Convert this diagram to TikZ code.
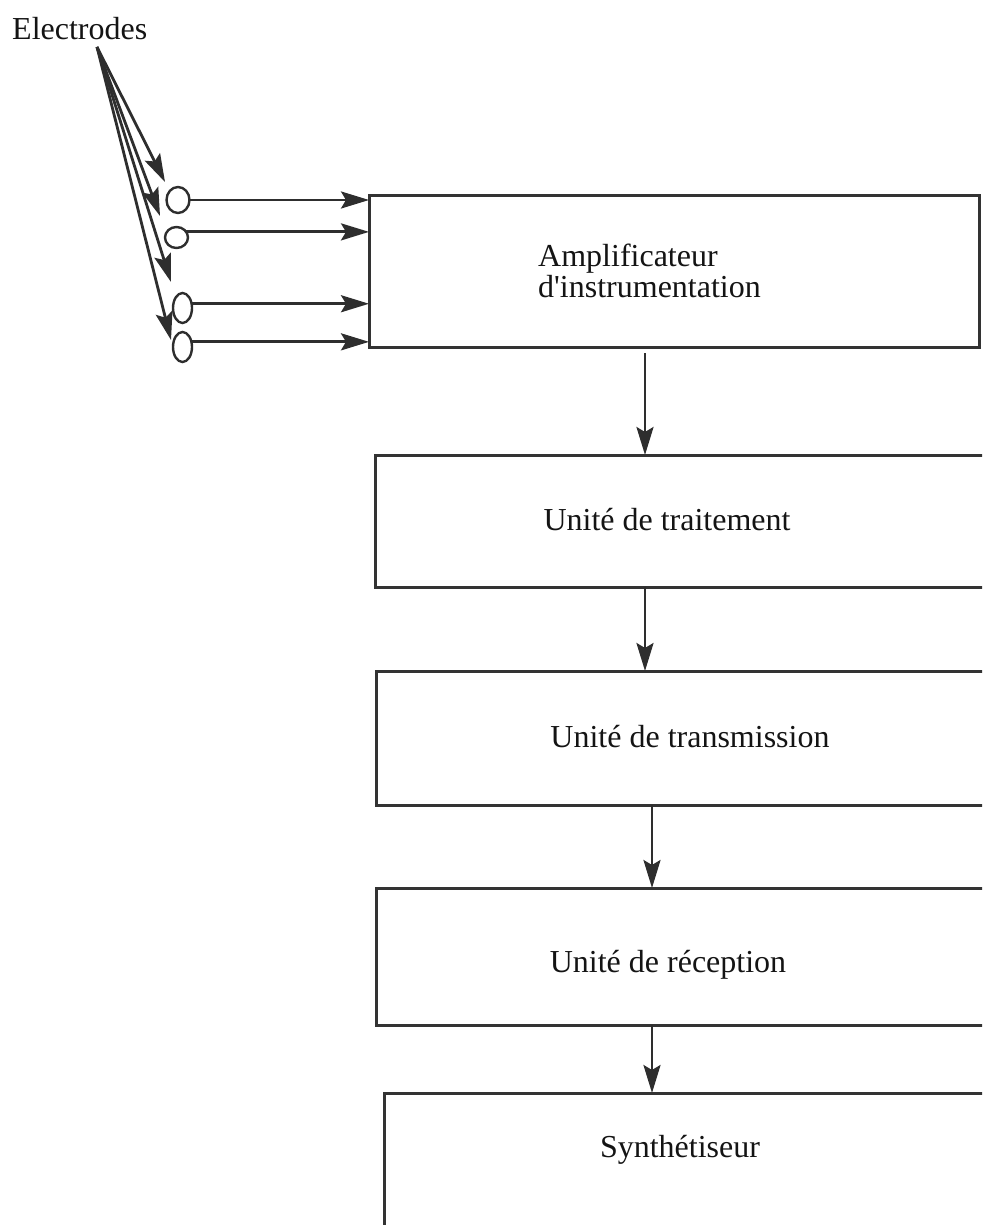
\documentclass[tikz,border=0pt]{standalone}
\usepackage{fontspec}
\setmainfont{Liberation Serif}[Ligatures=TeXOff]
\usetikzlibrary{arrows.meta,shapes.geometric,calc}
\begin{document}
\begin{tikzpicture}[x=1pt,y=-1pt,
  ink/.style={draw=black!80, line width=3pt},
  box/.style={ink, rectangle, outer sep=0pt, inner sep=0pt, anchor=north west},
  elec/.style={draw=black!82, line width=2.4pt, ellipse, inner sep=0pt, outer sep=0pt},
  arr/.style={draw=black!82, line width=2.8pt,
    -{Stealth[length=28pt,width=17pt,inset=5pt]}},
  lbl/.style={font=\fontsize{32}{36}\selectfont, inner sep=0pt, text=black!92}]
\useasboundingbox (0,0) rectangle (982,1225);
\clip (0,0) rectangle (982,1225);

% electrode label and the point the pointers leave from
\node[lbl, anchor=base west] (elabel) at (12,40) {Electrodes};
\coordinate (src) at (97,47);

% the four electrodes
\node[elec, minimum width=23, minimum height=26] (e1) at (178,200) {};
\node[elec, minimum width=23, minimum height=21] (e2) at (176.5,237.5) {};
\node[elec, minimum width=19, minimum height=30] (e3) at (182.5,308) {};
\node[elec, minimum width=19, minimum height=30] (e4) at (182.5,347) {};

% pointer tips
\coordinate (t1) at (165,182);
\coordinate (t2) at (160,216);
\coordinate (t3) at (171,282);
\coordinate (t4) at (171,340);
\foreach \t in {t1,t2,t3,t4} \draw[arr] (src) -- (\t);

% processing chain
\node[box, minimum width=610, minimum height=152] (amp) at (369,195) {};
\node[box, minimum width=640, minimum height=132] (trt) at (375,455) {};
\node[box, minimum width=640, minimum height=134] (tx)  at (376,671) {};
\node[box, minimum width=640, minimum height=137] (rx)  at (376,888) {};
\node[box, minimum width=640, minimum height=180] (syn) at (384,1093) {};

% block titles
\node[lbl, anchor=base west] (tamp) at (538,266) {Amplificateur};
\node[lbl, anchor=base west] (tamp2) at (538,297) {d'instrumentation};
\node[lbl] (ttrt) at (667,520) {Unité de traitement};
\node[lbl] (ttx)  at (690,737) {Unité de transmission};
\node[lbl] (trx)  at (668,965) {Unité de réception};
\node[lbl] (tsyn) at (680,1150) {Synthétiseur};

% electrode wires into the amplifier
\draw[arr] (e1.east) -- (e1.east -| amp.west);
\draw[arr] (e2.30) -- (e2.30 -| amp.west);
\draw[arr] (e3.25) -- (e3.25 -| amp.west);
\draw[arr] (e4.30) -- (e4.30 -| amp.west);

% links along the chain
\draw[arr] ([xshift=276pt,yshift=-6pt]amp.south west) -- ([xshift=270pt]trt.north west);
\draw[arr] ([xshift=270pt]trt.south west) -- ([xshift=269pt]tx.north west);
\draw[arr] ([xshift=276pt]tx.south west) -- ([xshift=276pt]rx.north west);
\draw[arr] ([xshift=276pt]rx.south west) -- ([xshift=268pt]syn.north west);
\end{tikzpicture}
\end{document}
